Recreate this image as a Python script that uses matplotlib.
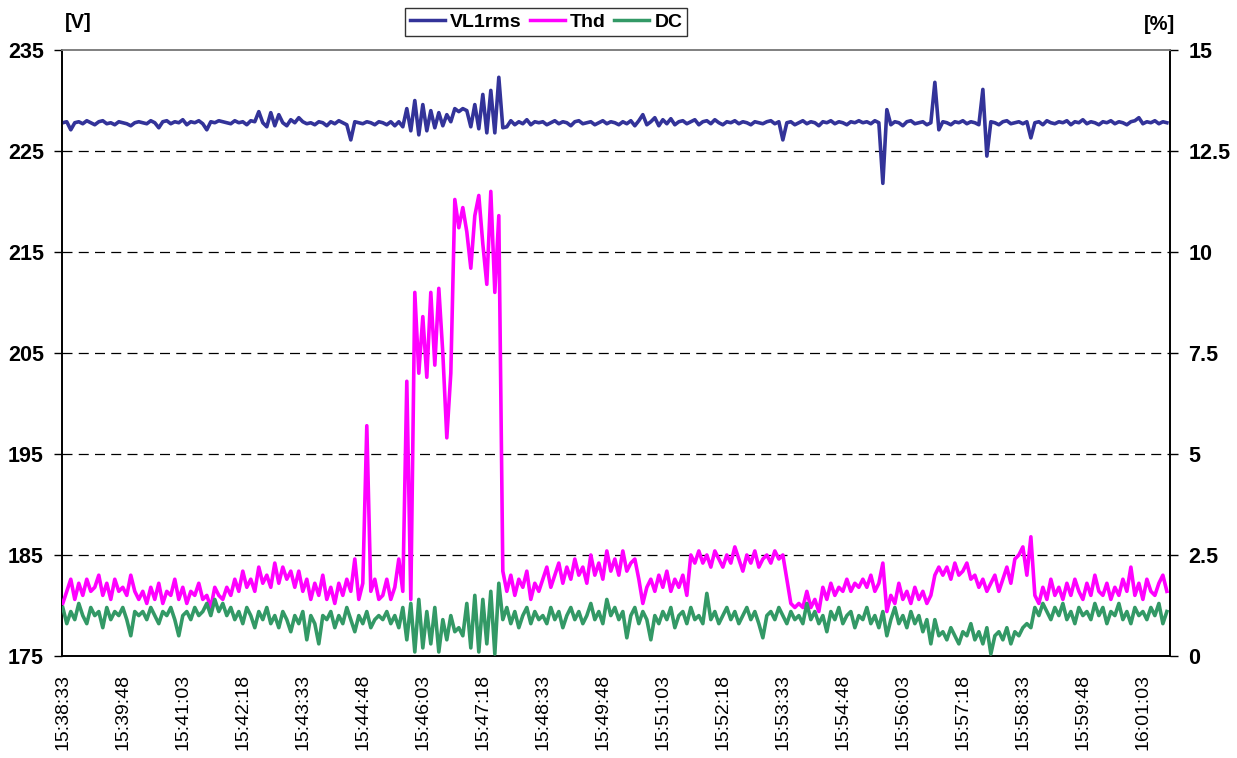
import numpy as np
import matplotlib
matplotlib.use("Agg")
import matplotlib.pyplot as plt
from matplotlib.lines import Line2D

plt.rcParams['font.family'] = ['Liberation Sans', 'DejaVu Sans']

# sampling step of the series below, seconds (start 15:38:33)
step_s = 5

tick_labels = ["15:38:33", "15:39:48", "15:41:03", "15:42:18", "15:43:33", "15:44:48",
               "15:46:03", "15:47:18", "15:48:33", "15:49:48", "15:51:03", "15:52:18",
               "15:53:33", "15:54:48", "15:56:03", "15:57:18", "15:58:33", "15:59:48",
               "16:01:03"]
tick_every_s = 75

vl1rms = [
    227.8, 227.9, 227.1, 227.8, 227.9, 227.7, 228.0, 227.8, 227.6, 227.9, 228.0, 227.7, 227.8, 227.6, 227.9, 227.8, 227.7, 227.5, 227.8, 227.9,
    227.8, 227.7, 228.0, 227.8, 227.3, 227.9, 228.0, 227.7, 227.9, 227.8, 228.1, 227.6, 227.9, 227.8, 228.0, 227.7, 227.1, 227.9, 227.8, 228.0,
    227.9, 227.8, 227.7, 228.0, 227.8, 227.9, 227.6, 228.0, 227.9, 228.9, 227.8, 227.4, 228.8, 227.5, 228.6, 227.8, 227.5, 228.1, 227.8, 228.3,
    227.9, 227.7, 227.8, 227.6, 227.9, 227.8, 227.5, 227.9, 227.7, 228.0, 227.8, 227.6, 226.1, 227.9, 227.8, 227.7, 227.9, 227.8, 227.6, 227.9,
    227.8, 227.6, 227.9, 227.5, 227.9, 227.4, 229.2, 227.0, 230.0, 226.6, 229.6, 227.0, 229.0, 227.3, 228.8, 227.5, 228.6, 227.9, 229.2, 228.9,
    229.2, 229.0, 227.4, 229.6, 227.2, 230.6, 226.8, 231.0, 226.8, 232.3, 227.3, 227.4, 228.0, 227.6, 227.9, 227.7, 228.1, 227.6, 227.9, 227.8,
    227.9, 227.6, 227.8, 228.0, 227.7, 227.9, 227.8, 227.5, 227.9, 228.0, 227.7, 227.8, 227.9, 227.6, 227.8, 228.0, 227.7, 227.9, 227.8, 227.6,
    227.9, 227.7, 228.0, 227.5, 228.0, 228.6, 227.6, 227.9, 228.3, 227.5, 228.1, 227.7, 228.2, 227.6, 227.9, 228.0, 227.7, 227.9, 228.1, 227.6,
    227.9, 228.0, 227.7, 228.1, 227.8, 227.6, 227.9, 227.8, 228.0, 227.7, 227.9, 227.8, 227.6, 227.9, 227.8, 227.7, 227.9, 228.0, 227.7, 227.9,
    226.1, 227.8, 227.9, 227.6, 227.8, 228.0, 227.7, 227.9, 227.8, 227.5, 227.9, 227.8, 228.0, 227.7, 227.9, 227.8, 227.6, 227.9, 227.8, 228.0,
    227.8, 227.9, 227.7, 228.0, 227.8, 221.8, 229.1, 227.6, 227.9, 227.8, 227.5, 227.9, 228.0, 227.7, 227.8, 227.9, 227.6, 227.8, 231.8, 227.1,
    227.9, 227.8, 227.6, 227.9, 227.8, 228.0, 227.7, 227.9, 227.8, 227.6, 231.1, 224.5, 227.9, 227.8, 227.6, 227.9, 228.0, 227.7, 227.8, 227.9,
    227.7, 227.9, 226.3, 227.8, 227.9, 227.6, 228.0, 227.8, 227.7, 227.9, 227.8, 228.0, 227.6, 227.9, 227.8, 228.1, 227.7, 227.9, 227.8, 227.6,
    227.9, 227.8, 228.0, 227.7, 227.9, 227.8, 227.6, 227.9, 228.0, 228.3, 227.7, 227.9, 227.8, 228.0, 227.7, 227.9, 227.8,
]

thd = [
    1.3, 1.6, 1.9, 1.4, 1.8, 1.5, 1.9, 1.6, 1.7, 2.0, 1.5, 1.8, 1.4, 1.9, 1.6, 1.7, 1.5, 2.0, 1.6, 1.4,
    1.6, 1.3, 1.7, 1.4, 1.8, 1.3, 1.6, 1.5, 1.9, 1.4, 1.7, 1.3, 1.6, 1.5, 1.8, 1.4, 1.5, 1.2, 1.7, 1.5,
    1.4, 1.7, 1.5, 1.9, 1.6, 2.1, 1.7, 1.9, 1.6, 2.2, 1.8, 2.0, 1.7, 2.3, 1.8, 2.2, 1.9, 2.1, 1.7, 2.1,
    1.6, 1.9, 1.4, 1.8, 1.5, 2.0, 1.4, 1.7, 1.3, 1.8, 1.5, 1.9, 1.6, 2.4, 1.4, 1.8, 5.7, 1.6, 1.9, 1.4,
    1.5, 1.9, 1.4, 1.7, 2.4, 1.6, 6.8, 1.4, 9.0, 7.0, 8.4, 6.9, 9.0, 7.2, 9.1, 7.5, 5.4, 7.0, 11.3, 10.6,
    11.1, 10.5, 9.6, 10.9, 11.4, 10.2, 9.2, 11.5, 9.0, 10.9, 2.1, 1.6, 2.0, 1.5, 1.9, 1.7, 2.1, 1.4, 1.8, 1.6,
    1.9, 2.2, 1.7, 2.0, 2.3, 1.8, 2.2, 1.9, 2.4, 2.0, 2.2, 1.8, 2.5, 2.0, 2.3, 1.9, 2.6, 2.1, 2.4, 2.0,
    2.6, 2.1, 2.3, 2.4, 1.9, 1.3, 1.7, 1.9, 1.6, 2.0, 1.7, 2.1, 1.6, 1.9, 1.7, 2.0, 1.5, 2.5, 2.3, 2.6,
    2.3, 2.5, 2.2, 2.6, 2.4, 2.2, 2.5, 2.3, 2.7, 2.4, 2.1, 2.5, 2.3, 2.6, 2.2, 2.4, 2.5, 2.3, 2.6, 2.4,
    2.5, 1.9, 1.3, 1.2, 1.3, 1.2, 1.6, 1.2, 1.4, 1.1, 1.7, 1.4, 1.8, 1.5, 1.7, 1.6, 1.9, 1.6, 1.8, 1.7,
    1.9, 1.7, 2.0, 1.6, 1.8, 2.3, 1.1, 1.5, 1.3, 1.8, 1.4, 1.6, 1.3, 1.7, 1.4, 1.6, 1.3, 1.5, 2.0, 2.2,
    2.0, 2.2, 1.9, 2.3, 2.0, 2.1, 2.3, 1.9, 2.0, 1.7, 1.9, 1.6, 1.8, 2.0, 1.6, 1.9, 2.2, 1.8, 2.4, 2.5,
    2.7, 2.0, 2.95, 1.5, 1.3, 1.7, 1.4, 1.9, 1.5, 1.7, 1.4, 1.8, 1.5, 1.9, 1.6, 1.4, 1.8, 1.5, 2.0, 1.6,
    1.5, 1.8, 1.4, 1.7, 1.5, 1.9, 1.6, 2.2, 1.5, 1.8, 1.4, 1.9, 1.6, 1.5, 1.8, 2.0, 1.6,
]

dc = [
    1.2, 0.8, 1.1, 0.9, 1.3, 1.0, 0.8, 1.2, 1.0, 1.1, 0.7, 1.2, 0.9, 1.1, 1.0, 1.2, 0.9, 0.5, 1.1, 1.0,
    1.1, 0.9, 1.2, 1.0, 0.8, 1.1, 1.0, 1.2, 0.9, 0.5, 1.0, 1.1, 0.9, 1.2, 1.0, 1.1, 1.3, 1.0, 1.4, 1.1,
    1.3, 1.0, 1.2, 0.9, 1.1, 0.8, 1.2, 1.0, 0.7, 1.1, 0.9, 1.2, 0.8, 1.0, 0.7, 1.1, 0.9, 0.6, 1.0, 0.8,
    1.1, 0.4, 1.0, 0.8, 0.3, 1.0, 0.9, 1.1, 0.7, 1.0, 0.8, 1.2, 0.9, 0.6, 1.0, 0.8, 1.1, 0.7, 0.9, 1.0,
    0.9, 1.1, 0.8, 1.0, 0.7, 1.2, 0.4, 1.3, 0.1, 1.4, 0.2, 1.1, 0.3, 1.2, 0.1, 0.9, 0.4, 1.0, 0.6, 0.7,
    0.5, 1.3, 0.2, 1.5, 0.1, 1.4, 0.3, 1.6, 0.05, 1.8, 0.9, 1.2, 0.8, 1.1, 0.7, 1.0, 1.2, 0.8, 1.1, 0.9,
    1.0, 0.8, 1.2, 0.9, 1.1, 0.7, 1.0, 1.2, 0.9, 1.1, 0.8, 1.0, 1.3, 0.9, 1.1, 0.8, 1.4, 1.0, 1.2, 0.9,
    1.1, 0.45, 1.0, 1.2, 0.8, 1.1, 0.9, 0.4, 1.0, 0.8, 1.1, 0.9, 1.2, 0.7, 1.0, 1.1, 0.8, 1.2, 0.9, 1.0,
    0.8, 1.55, 0.9, 1.1, 0.8, 1.0, 1.2, 0.9, 1.1, 0.8, 1.0, 1.2, 0.9, 1.1, 0.8, 0.45, 1.0, 1.1, 0.9, 1.2,
    1.0, 0.8, 1.1, 0.9, 1.0, 0.8, 1.3, 0.9, 1.1, 0.8, 1.0, 0.6, 1.1, 0.9, 1.2, 0.8, 1.0, 1.1, 0.7, 1.0,
    0.9, 1.2, 0.8, 1.0, 0.7, 1.1, 0.5, 0.9, 1.2, 0.8, 1.0, 0.7, 1.1, 0.8, 1.0, 0.6, 0.9, 0.3, 0.9, 0.5,
    0.6, 0.4, 0.7, 0.5, 0.3, 0.6, 0.5, 0.8, 0.4, 0.6, 0.3, 0.7, 0.05, 0.5, 0.6, 0.4, 0.7, 0.3, 0.6, 0.5,
    0.7, 0.8, 0.7, 1.2, 1.0, 1.3, 1.1, 0.9, 1.2, 1.0, 1.3, 0.9, 1.1, 0.8, 1.2, 1.0, 1.1, 0.9, 1.3, 1.0,
    1.2, 0.8, 1.1, 1.0, 1.3, 0.9, 1.1, 0.8, 1.2, 1.0, 1.1, 0.9, 1.2, 1.0, 1.3, 0.8, 1.1,
]

t = np.arange(len(vl1rms)) * step_s

fig = plt.figure(figsize=(12.37, 7.58), dpi=100)
ax = fig.add_axes([0.0501, 0.1346, 0.8958, 0.7994])
ax2 = ax.twinx()

ax.plot(t, vl1rms, color="#333399", lw=2.6, zorder=3)
ax2.plot(t, thd, color="#FF00FF", lw=2.6, zorder=3)
ax2.plot(t, dc, color="#339966", lw=2.6, zorder=4)

ax.set_xlim(-1, 1384)
ax.set_ylim(175, 235)
ax2.set_ylim(0, 15)
ax.set_yticks(np.arange(175, 236, 10))
ax2.set_yticks(np.arange(0, 15.1, 2.5))
ax2.set_yticklabels(["0", "2.5", "5", "7.5", "10", "12.5", "15"])

xt = np.arange(len(tick_labels)) * tick_every_s
ax.set_xticks(xt)
ax.set_xticklabels(tick_labels, rotation=90, fontsize=14)
ax.tick_params(axis="x", length=0, pad=13)
ax.tick_params(axis="y", length=6, width=1, pad=7, labelsize=15.5)
ax2.tick_params(axis="y", length=6, width=1, pad=7, labelsize=15.5)
for lab in ax.get_yticklabels() + ax2.get_yticklabels():
    lab.set_fontweight("bold")

for v in range(185, 235, 10):
    ax.axhline(v, color="black", lw=0.9, ls=(0, (8, 5)), zorder=1)

for a in (ax, ax2):
    a.spines["top"].set_color("#808080")
    a.spines["top"].set_linewidth(1.2)
    a.spines["left"].set_linewidth(1.2)
    a.spines["bottom"].set_linewidth(1.2)
    a.spines["right"].set_linewidth(1.2)

fig.text(0.0525, 0.970, "[V]", fontsize=14.5, fontweight="bold", ha="left", va="center")
fig.text(0.950, 0.968, "[%]", fontsize=14.5, fontweight="bold", ha="right", va="center")

handles = [Line2D([], [], color="#333399", lw=2.5),
           Line2D([], [], color="#FF00FF", lw=2.5),
           Line2D([], [], color="#339966", lw=2.5)]
leg = fig.legend(handles, ["VL1rms", "Thd", "DC"], loc="center", bbox_to_anchor=(0.4414, 0.971),
                 ncol=3, frameon=True, fancybox=False, edgecolor="black", handlelength=1.8,
                 handletextpad=0.25, columnspacing=0.45, borderpad=0.25, borderaxespad=0,
                 prop={"size": 14, "weight": "bold"})
leg.get_frame().set_linewidth(1.0)

fig.savefig("out.png", dpi=100)
